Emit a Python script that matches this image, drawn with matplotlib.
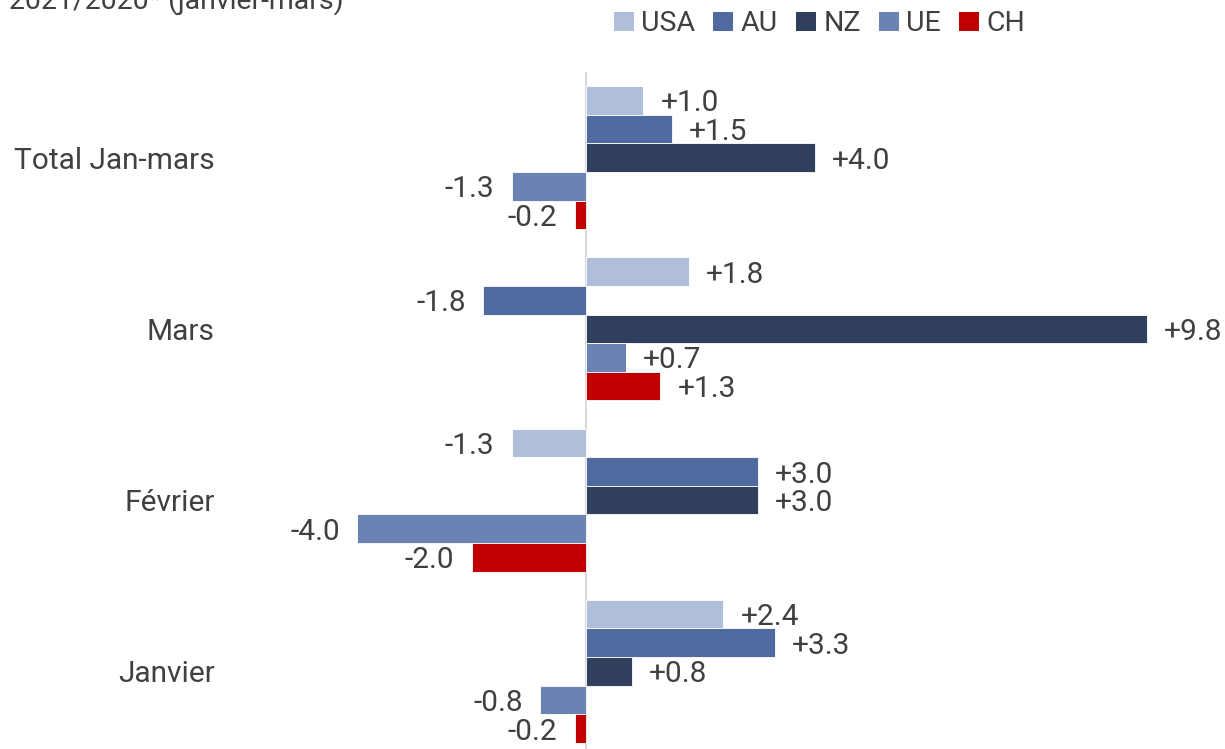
import matplotlib.pyplot as plt
from matplotlib.patches import Patch
import numpy as np

plt.rcParams['font.family'] = ['Roboto', 'DejaVu Sans']

# categories from bottom to top
categories = ["Janvier", "Février", "Mars", "Total Jan-mars"]
series = ["USA", "AU", "NZ", "UE", "CH"]
usa = [2.4, -1.3, 1.8, 1.0]
au = [3.3, 3.0, -1.8, 1.5]
nz = [0.8, 3.0, 9.8, 4.0]
ue = [-0.8, -4.0, 0.7, -1.3]
ch = [-0.2, -2.0, 1.3, -0.2]
colors = ["#B0BED9", "#4F6A9E", "#2F3F5C", "#6A82B4", "#C00000"]
title = "2021/2020* (janvier-mars)"

TXT = "#404040"
FS = 21.5

fig = plt.figure(figsize=(12.25, 7.49), dpi=100)
ax = fig.add_axes([0.189, -0.0107, 0.803, 0.9146])

y = np.arange(len(categories))
h = 0.167
values = [usa, au, nz, ue, ch]
for i, (name, vals, col) in enumerate(zip(series, values, colors)):
    offs = (2 - i) * h
    ax.barh(y + offs, vals, height=h, color=col, edgecolor="white", linewidth=0.6)
    for yy, v in zip(y + offs, vals):
        if v >= 0:
            ax.text(v + 0.3, yy, f"+{v:.1f}", va="center_baseline", ha="left", fontsize=FS, color=TXT)
        else:
            ax.text(v - 0.3, yy, f"-{abs(v):.1f}", va="center_baseline", ha="right", fontsize=FS, color=TXT)

ax.axvline(0, color="#D9D9D9", lw=1.5, zorder=0)
ax.set_xlim(-6.2, 11.0)
ax.set_ylim(-0.5, 3.5)
ax.set_yticks(y)
ax.set_yticklabels(categories, fontsize=FS, color=TXT)
ax.tick_params(axis="y", length=0, pad=12)
ax.set_xticks([])
for s in ax.spines.values():
    s.set_visible(False)

handles = [Patch(facecolor=c, edgecolor="none", label=n) for n, c in zip(series, colors)]
fig.legend(handles=handles, loc="center", bbox_to_anchor=(0.669, 0.968), ncol=5,
           frameon=False, fontsize=20.5, handlelength=0.7, handleheight=0.7,
           handletextpad=0.25, columnspacing=0.65, labelcolor=TXT)

fig.text(0.007, 0.989, title, fontsize=20.5, color=TXT, va="baseline", ha="left")

fig.savefig("out.png", dpi=100)
